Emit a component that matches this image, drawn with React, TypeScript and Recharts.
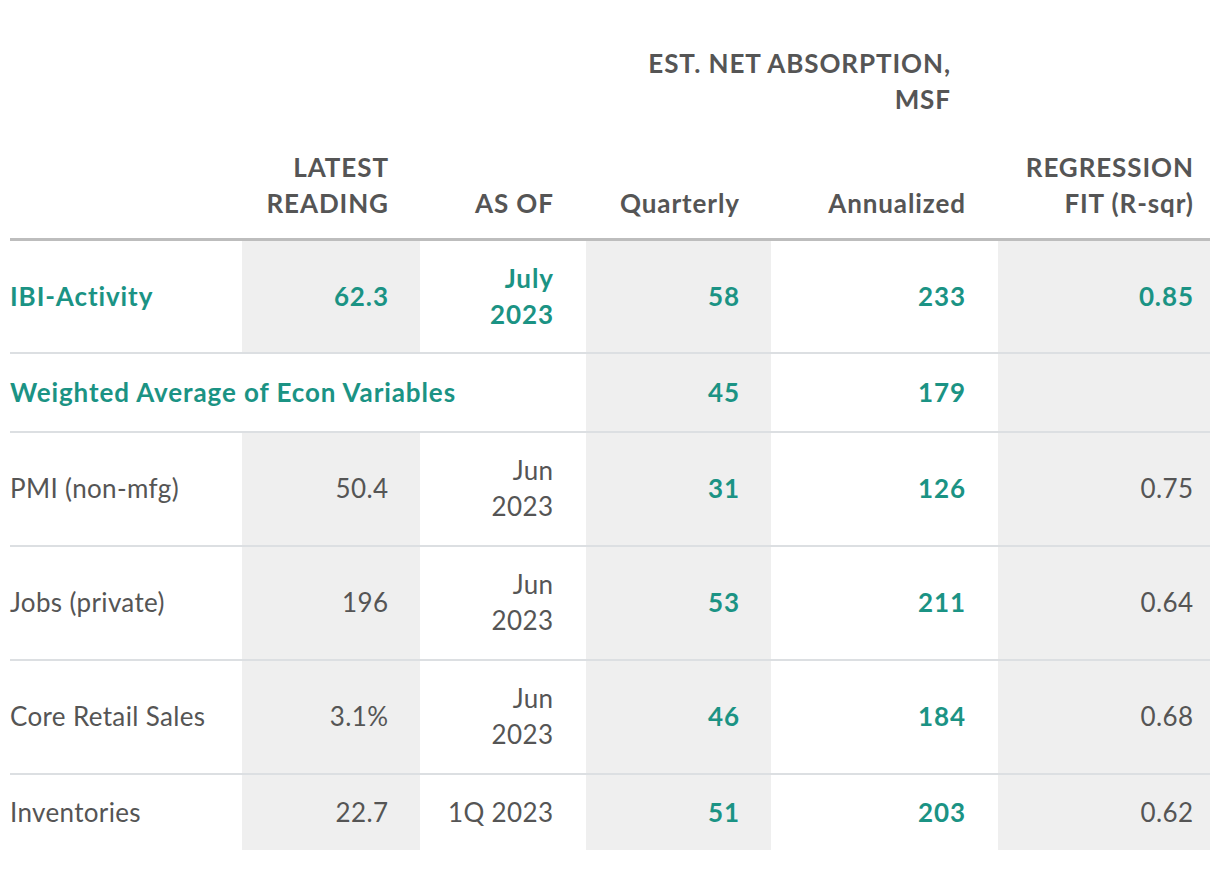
import { ComposedChart, Customized } from 'recharts';

const rowLabels = [
  'IBI-Activity',
  'Weighted Average of Econ Variables',
  'PMI (non-mfg)',
  'Jobs (private)',
  'Core Retail Sales',
  'Inventories',
];
const latestReading = ['62.3', '', '50.4', '196', '3.1%', '22.7'];
const asOf = ['July\n2023', '', 'Jun\n2023', 'Jun\n2023', 'Jun\n2023', '1Q 2023'];
const quarterly = [58, 45, 31, 53, 46, 51];
const annualized = [233, 179, 126, 211, 184, 203];
const rSquared = ['0.85', '', '0.75', '0.64', '0.68', '0.62'];
const highlighted = ['IBI-Activity', 'Weighted Average of Econ Variables'];
const spanning = ['Weighted Average of Econ Variables'];

const groupHeader = ['EST. NET ABSORPTION,', 'MSF'];
const columnHeaders = [[], ['LATEST', 'READING'], ['AS OF'], ['Quarterly'], ['Annualized'], ['REGRESSION', 'FIT (R-sqr)']];

const rows = rowLabels.map((name, i) => ({
  name,
  latest: latestReading[i],
  asOf: asOf[i],
  quarterly: quarterly[i],
  annualized: annualized[i],
  r2: rSquared[i],
}));

const TEAL = '#1b9384';
const GREY_TEXT = '#555555';
const FILL = '#efefef';
const FONT = 'Lato, "Open Sans", sans-serif';
const FS = 26;
const LINE_H = 36;

// column edges and right-aligned text anchors
const colEdges = [10, 242, 420, 586, 771, 998, 1210];
const textX = [10, 388, 553, 739, 965, 1193];
const shadedCols = [1, 3, 5];
// row boundaries
const rowEdges = [240, 352, 431, 545, 659, 773, 850];

function Lines({ x, y, lines, anchor, bold, color }: any) {
  const top = y - ((lines.length - 1) * LINE_H) / 2;
  const ls = bold ? 0.9 : 0.35;
  // trailing letter-spacing shifts end-anchored text left, compensate
  const xx = anchor === 'end' ? x + ls : x;
  return (
    <text
      x={xx}
      textAnchor={anchor}
      fontFamily={FONT}
      fontSize={FS}
      fontWeight={bold ? 700 : 400}
      letterSpacing={ls}
      fill={color}
    >
      {lines.map((l: string, i: number) => (
        <tspan key={i} x={xx} y={top + i * LINE_H} dy="0.36em">
          {l}
        </tspan>
      ))}
    </text>
  );
}

function TableLayer() {
  return (
    <g>
      {rows.map((r, ri) => {
        const y0 = rowEdges[ri] + (ri === 0 ? 0 : 2);
        const y1 = rowEdges[ri + 1];
        return shadedCols
          .filter((c) => !(spanning.includes(r.name) && c < 3))
          .map((c) => (
            <rect key={`${ri}-${c}`} x={colEdges[c]} y={y0} width={colEdges[c + 1] - colEdges[c]} height={y1 - y0} fill={FILL} />
          ));
      })}
      <rect x={10} y={238} width={1200} height={3} fill="#bdbdbd" />
      {rowEdges.slice(1, -1).map((y, i) => (
        <rect key={i} x={10} y={y} width={1200} height={2} fill="#dcdfe2" />
      ))}

      <Lines x={950} y={82} lines={groupHeader} anchor="end" bold color={GREY_TEXT} />
      {columnHeaders.map((h, c) =>
        h.length ? (
          <Lines key={c} x={textX[c]} y={204 - ((h.length - 1) * LINE_H) / 2} lines={h} anchor="end" bold color={GREY_TEXT} />
        ) : null
      )}

      {rows.map((r, ri) => {
        const cy = (rowEdges[ri] + rowEdges[ri + 1]) / 2 + 1;
        const hi = highlighted.includes(r.name);
        const c = hi ? TEAL : GREY_TEXT;
        const cells = [r.latest, r.asOf, String(r.quarterly), String(r.annualized), r.r2];
        return (
          <g key={ri}>
            <Lines x={textX[0]} y={cy} lines={[r.name]} anchor="start" bold={hi} color={c} />
            {cells.map((v, ci) =>
              v ? (
                <Lines
                  key={ci}
                  x={textX[ci + 1]}
                  y={cy}
                  lines={v.split('\n')}
                  anchor="end"
                  bold={hi || ci === 2 || ci === 3}
                  color={hi || ci === 2 || ci === 3 ? TEAL : GREY_TEXT}
                />
              ) : null
            )}
          </g>
        );
      })}
    </g>
  );
}

export default function App() {
  return (
    <div style={{ position: 'absolute', left: 0, top: 0, background: '#fff' }}>
      <ComposedChart width={1220} height={890} data={rows} margin={{ top: 0, right: 0, bottom: 0, left: 0 }}>
        <Customized component={TableLayer} />
      </ComposedChart>
    </div>
  );
}
